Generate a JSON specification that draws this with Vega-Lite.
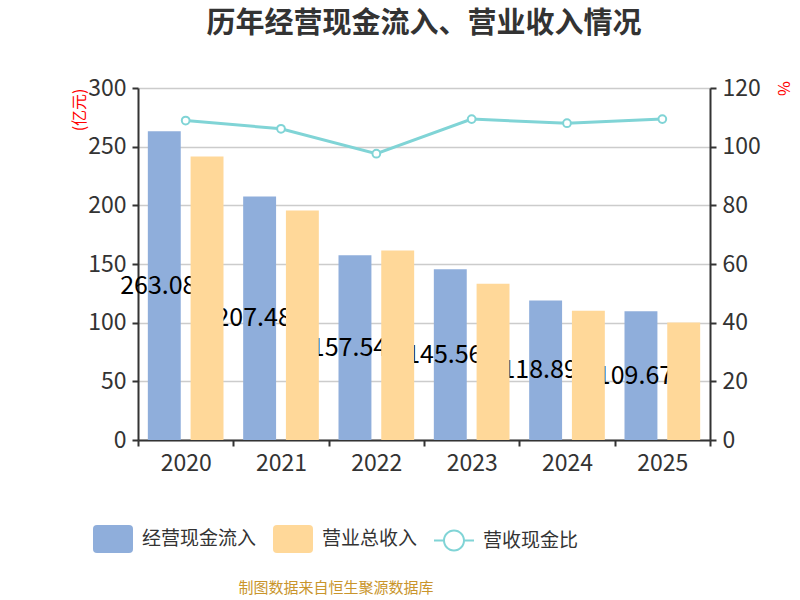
{
  "$schema": "https://vega.github.io/schema/vega-lite/v6.json",
  "description": "历年经营现金流入、营业收入情况",
  "autosize": {"type": "fit", "contains": "padding"},
  "width": 800,
  "height": 600,
  "padding": {"top": 10, "left": 71, "right": 9, "bottom": 125},
  "background": "white",
  "title": {
    "text": "历年经营现金流入、营业收入情况",
    "fontSize": 29,
    "fontWeight": "bold",
    "color": "#333333",
    "anchor": "middle",
    "offset": 38
  },
  "config": {
    "font": "Noto Sans CJK SC",
    "view": {"stroke": null}
  },
  "datasets": {
    "bars": [
      {"year": "2020", "series": "经营现金流入", "value": 263.08},
      {"year": "2021", "series": "经营现金流入", "value": 207.48},
      {"year": "2022", "series": "经营现金流入", "value": 157.54},
      {"year": "2023", "series": "经营现金流入", "value": 145.56},
      {"year": "2024", "series": "经营现金流入", "value": 118.89},
      {"year": "2025", "series": "经营现金流入", "value": 109.67},
      {"year": "2020", "series": "营业总收入", "value": 241.6},
      {"year": "2021", "series": "营业总收入", "value": 195.5},
      {"year": "2022", "series": "营业总收入", "value": 161.4},
      {"year": "2023", "series": "营业总收入", "value": 133.1},
      {"year": "2024", "series": "营业总收入", "value": 110.1},
      {"year": "2025", "series": "营业总收入", "value": 100.2}
    ],
    "ratio": [
      {"year": "2020", "series": "营收现金比", "ratio": 108.9},
      {"year": "2021", "series": "营收现金比", "ratio": 106.1},
      {"year": "2022", "series": "营收现金比", "ratio": 97.6},
      {"year": "2023", "series": "营收现金比", "ratio": 109.4},
      {"year": "2024", "series": "营收现金比", "ratio": 108.0},
      {"year": "2025", "series": "营收现金比", "ratio": 109.4}
    ]
  },
  "encoding": {
    "x": {
      "field": "year",
      "type": "nominal",
      "title": null,
      "scale": {"paddingInner": 0, "paddingOuter": 0},
      "axis": {
        "labelAngle": 0,
        "labelFontSize": 23,
        "labelColor": "#333333",
        "labelPadding": 6,
        "domainColor": "#333333",
        "domainWidth": 2,
        "tickColor": "#333333",
        "tickWidth": 2,
        "tickSize": 6,
        "tickBand": "extent",
        "grid": false
      }
    }
  },
  "layer": [
    {
      "data": {"name": "bars"},
      "transform": [{"filter": "datum.series === '经营现金流入'"}],
      "mark": {"type": "bar"},
      "encoding": {
        "xOffset": {
          "field": "series",
          "scale": {"domain": ["经营现金流入", "营业总收入"], "paddingInner": 0.23, "paddingOuter": 0.23}
        },
        "y": {
          "field": "value",
          "type": "quantitative",
          "scale": {"domain": [0, 300]},
          "axis": {
            "orient": "left",
            "values": [0, 50, 100, 150, 200, 250, 300],
            "title": "(亿元)",
            "titleColor": "red",
            "titleFontSize": 16,
            "titleFontWeight": "normal",
            "titleAnchor": "end",
            "titlePadding": 0,
            "labelFontSize": 23,
            "labelColor": "#333333",
            "labelPadding": 6,
            "domainColor": "#333333",
            "domainWidth": 2,
            "tickColor": "#333333",
            "tickWidth": 2,
            "tickSize": 6,
            "grid": true,
            "gridColor": "#cccccc",
            "gridWidth": 1.5
          }
        },
        "color": {
          "field": "series",
          "type": "nominal",
          "scale": {
            "domain": ["经营现金流入", "营业总收入", "营收现金比"],
            "range": ["#8faedb", "#ffd899", "#80d4d6"]
          },
          "legend": {
            "orient": "none",
            "legendX": -45,
            "legendY": 431,
            "direction": "horizontal",
            "title": "制图数据来自恒生聚源数据库",
            "titleOrient": "bottom",
            "titleAnchor": "middle",
            "titleColor": "#c9952c",
            "titleFontSize": 15,
            "titleFontWeight": "normal",
            "titlePadding": 28,
            "titleLimit": 500,
            "labelFontSize": 19,
            "labelColor": "#333333",
            "labelOffset": 9,
            "labelLimit": 300,
            "columnPadding": 16,
            "symbolSize": 1600,
            "encode": {
              "symbols": {
                "update": {
                  "shape": {"signal": "datum.value === '营收现金比' ? 'M-1,-0.05H-0.5V0.05H-1Z M0.5,-0.05H1V0.05H0.5Z M0.55,0A0.55,0.55 0 1,1 -0.55,0A0.55,0.55 0 1,1 0.55,0Z M0.45,0A0.45,0.45 0 1,0 -0.45,0A0.45,0.45 0 1,0 0.45,0Z' : 'M-0.8,-0.7H0.8Q1,-0.7 1,-0.5V0.5Q1,0.7 0.8,0.7H-0.8Q-1,0.7 -1,0.5V-0.5Q-1,-0.7 -0.8,-0.7Z'"},
                  "fill": {"signal": "scale('color', datum.value)"},
                  "stroke": {"value": "transparent"},
                  "strokeWidth": {"value": 0},
                  "opacity": {"value": 1}
                }
              }
            }
          }
        }
      }
    },
    {
      "data": {"name": "bars"},
      "transform": [{"filter": "datum.series === '经营现金流入'"}],
      "mark": {"type": "text", "fontSize": 25, "color": "#000000", "align": "center", "baseline": "middle", "dx": -6},
      "encoding": {
        "xOffset": {"field": "series"},
        "y": {"field": "value", "type": "quantitative", "scale": {"domain": [0, 600]}, "axis": null},
        "text": {"field": "value", "type": "quantitative", "format": ".2f"}
      }
    },
    {
      "data": {"name": "bars"},
      "transform": [{"filter": "datum.series === '营业总收入'"}],
      "mark": {"type": "bar"},
      "encoding": {
        "xOffset": {"field": "series"},
        "y": {"field": "value", "type": "quantitative", "scale": {"domain": [0, 300]}, "axis": null},
        "color": {"field": "series", "type": "nominal"}
      }
    },
    {
      "data": {"name": "ratio"},
      "mark": {
        "type": "line",
        "strokeWidth": 3,
        "point": {"filled": false, "fill": "#ffffff", "size": 60, "strokeWidth": 2, "opacity": 1}
      },
      "encoding": {
        "y": {
          "field": "ratio",
          "type": "quantitative",
          "scale": {"domain": [0, 120]},
          "axis": {
            "orient": "right",
            "values": [0, 20, 40, 60, 80, 100, 120],
            "title": "%",
            "titleColor": "red",
            "titleFontSize": 16,
            "titleFontWeight": "normal",
            "titleAnchor": "end",
            "titleAlign": "center",
            "titleAngle": 90,
            "titlePadding": 14,
            "labelFontSize": 23,
            "labelColor": "#333333",
            "labelPadding": 6,
            "domainColor": "#333333",
            "domainWidth": 2,
            "tickColor": "#333333",
            "tickWidth": 2,
            "tickSize": 6,
            "grid": false
          }
        },
        "color": {"field": "series", "type": "nominal"}
      }
    }
  ],
  "resolve": {"scale": {"y": "independent"}, "axis": {"y": "independent"}}
}
